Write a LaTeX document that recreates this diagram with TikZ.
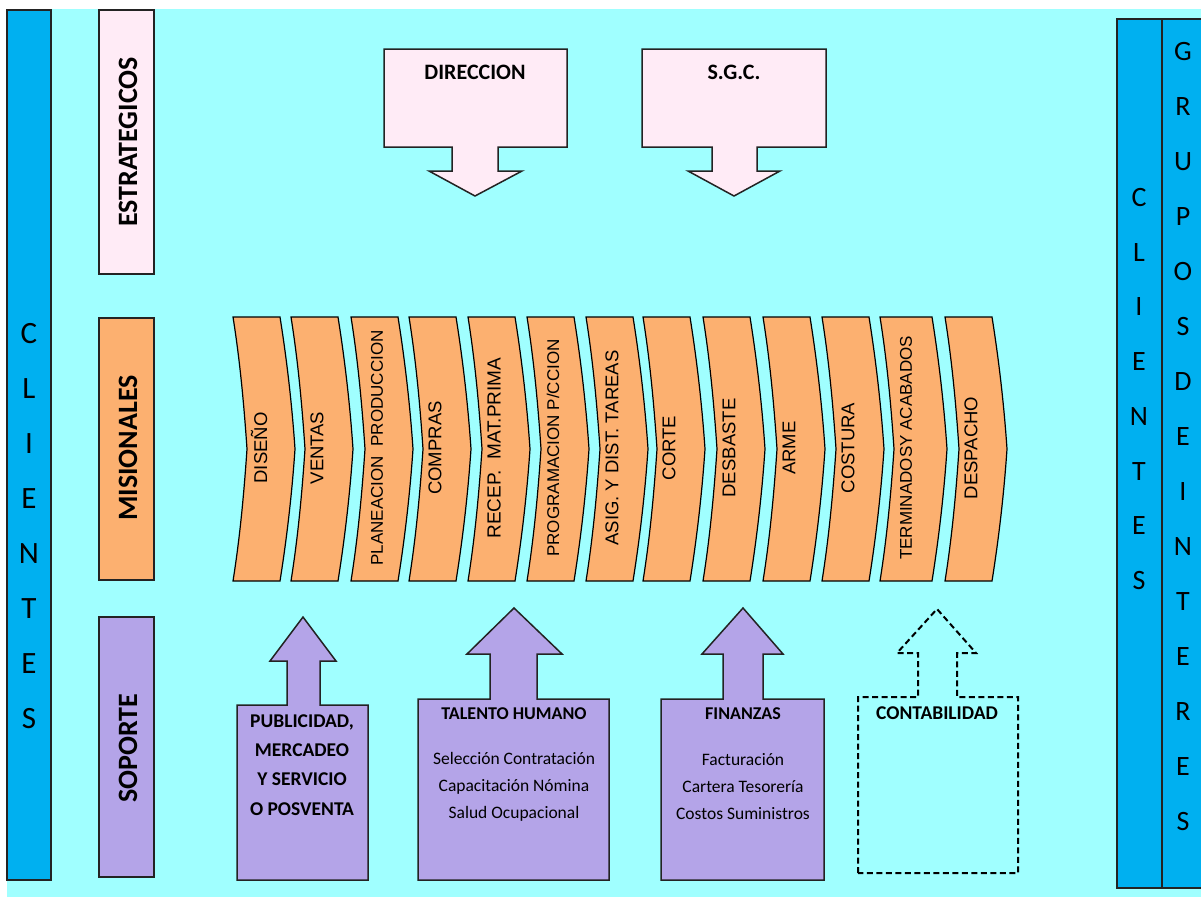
\documentclass[tikz,border=0pt]{standalone}
\usepackage{fontspec}
\setmainfont{Carlito}
\newfontfamily\arialf{Liberation Sans}
\definecolor{bgc}{RGB}{160,255,255}
\definecolor{bluec}{RGB}{0,176,240}
\definecolor{pinkc}{RGB}{255,235,246}
\definecolor{orangec}{RGB}{252,176,112}
\definecolor{purplec}{RGB}{180,164,232}
\definecolor{linec}{RGB}{35,35,35}
\newcommand{\mychev}[5]{%
  \draw[chev] (#2,317) -- ({#2+#3},317)
    .. controls ({#2+#3+7},361) and ({#2+#3+12},405) .. ({#2+#3+15},449)
    .. controls ({#2+#3+12},493) and ({#2+#3+7},537) .. ({#2+#3},581)
    -- (#2,581)
    .. controls ({#2+7},537) and ({#2+11},493) .. ({#2+14},449)
    .. controls ({#2+11},405) and ({#2+7},361) .. (#2,317) -- cycle;
  \node[chevtext, font=\arialf\fontsize{#4}{#4}\selectfont] (#1) at ({#2+26},448) {#5};
}
\begin{document}
\begin{tikzpicture}[x=1pt,y=-1pt,
  box/.style={draw=linec, line width=1.5pt},
  vlabel/.style={rotate=90, font=\fontsize{28}{30}\selectfont\bfseries},
  chev/.style={draw=black, line width=1.2pt, fill=orangec},
  chevtext/.style={rotate=90, inner sep=0pt},
  stack/.style={align=center, inner sep=0pt},
  title/.style={font=\fontsize{18}{20}\selectfont\bfseries, inner sep=0pt},
  item/.style={align=center, inner sep=0pt, font=\fontsize{17.5}{27}\selectfont},
  dashbox/.style={draw=black, line width=2pt, dash pattern=on 6pt off 3.5pt}
]
\useasboundingbox (0,0) rectangle (1201,897);
\fill[white] (0,0) rectangle (1201,897);
\fill[bgc] (7,9) rectangle (1201,897);

% left clients bar
\draw[box, fill=bluec] (7,10) rectangle (51,880);
\node[stack, font=\fontsize{31}{55}\selectfont] (cliL) at (29,526) {C\\L\\I\\E\\N\\T\\E\\S};

% right bars
\draw[box, fill=bluec] (1117,19) rectangle (1162,888);
\draw[box, fill=bluec] (1162,19) rectangle (1205,888);
\node[stack, font=\fontsize{28}{54.7}\selectfont] (cliR) at (1139,389) {C\\L\\I\\E\\N\\T\\E\\S};
\node[stack, font=\fontsize{28}{55}\selectfont] (grupos) at (1183,436) {G\\R\\U\\P\\O\\S\\D\\E\\I\\N\\T\\E\\R\\E\\S};

% row labels
\draw[box, fill=pinkc] (99,10) rectangle (154,274);
\node[vlabel] (estr) at (128,142) {ESTRATEGICOS};
\draw[box, fill=orangec] (99,318) rectangle (154,580);
\node[vlabel] (mis) at (128,448) {MISIONALES};
\draw[box, fill=purplec] (99,617) rectangle (154,877);
\node[vlabel] (sop) at (128,748) {SOPORTE};

% strategic down arrows
\draw[box, fill=pinkc] (384,49) -- (567,49) -- (567,147) -- (498,147) -- (498,171) -- (522,171)
  -- (475,196) -- (429,171) -- (452,171) -- (452,147) -- (384,147) -- cycle;
\node[title, font=\fontsize{22}{24}\selectfont\bfseries] (dir) at (475,72) {DIRECCION};
\draw[box, fill=pinkc] (642,49) -- (826,49) -- (826,147) -- (757,147) -- (757,171) -- (780,171)
  -- (734,196) -- (688,171) -- (712,171) -- (712,147) -- (642,147) -- cycle;
\node[title, font=\fontsize{22}{24}\selectfont\bfseries] (sgc) at (734,72) {S.G.C.};

% mission chevrons
\mychev{c1}{233}{47}{18.5}{DISEÑO}
\mychev{c2}{291}{47}{18.5}{VENTAS}
\mychev{c3}{351}{47}{17}{PLANEACION\ \ PRODUCCION}
\mychev{c4}{409}{47}{18.5}{COMPRAS}
\mychev{c5}{468}{47}{19}{RECEP.\ \ MAT.PRIMA}
\mychev{c6}{527}{47}{17}{PROGRAMACION P/CCION}
\mychev{c7}{586}{47}{18.5}{ASIG. Y DIST. TAREAS}
\mychev{c8}{643}{47}{18.5}{CORTE}
\mychev{c9}{703}{47}{18.5}{DESBASTE}
\mychev{c10}{763}{47}{18.5}{ARME}
\mychev{c11}{822}{47}{18.5}{COSTURA}
\mychev{c12}{880}{52}{17}{TERMINADOSY ACABADOS}
\mychev{c13}{945}{47}{18.5}{DESPACHO}

% support up arrows
\draw[box, fill=purplec] (237,880) -- (237,705) -- (287,705) -- (287,661) -- (270,661) -- (303,617)
  -- (336,661) -- (320,661) -- (320,705) -- (368,705) -- (368,880) -- cycle;
\node[stack, font=\fontsize{19.5}{29.3}\selectfont\bfseries] (pub) at (302,765)
  {PUBLICIDAD,\\MERCADEO\\Y SERVICIO\\O POSVENTA};

\draw[box, fill=purplec] (418,880) -- (418,699) -- (490,699) -- (490,654) -- (467,654) -- (514,608)
  -- (562,654) -- (537,654) -- (537,699) -- (609,699) -- (609,880) -- cycle;
\node[title] (tal) at (514,714) {TALENTO HUMANO};
\node[item] (tallist) at (514,787) {Selección Contratación\\Capacitación Nómina\\Salud Ocupacional};

\draw[box, fill=purplec] (661,880) -- (661,699) -- (723,699) -- (723,654) -- (702,654) -- (743,608)
  -- (783,654) -- (763,654) -- (763,699) -- (824,699) -- (824,880) -- cycle;
\node[title] (fin) at (743,714) {FINANZAS};
\node[item] (finlist) at (743,787) {Facturación\\Cartera Tesorería\\Costos Suministros};

\draw[dashbox] (858,873) -- (858,697) -- (918,697) -- (918,653) -- (897,653) -- (937,609)
  -- (976,653) -- (957,653) -- (957,697) -- (1018,697) -- (1018,873) -- cycle;
\node[title, font=\fontsize{19.5}{21}\selectfont\bfseries] (con) at (937,713) {CONTABILIDAD};
\end{tikzpicture}
\end{document}
